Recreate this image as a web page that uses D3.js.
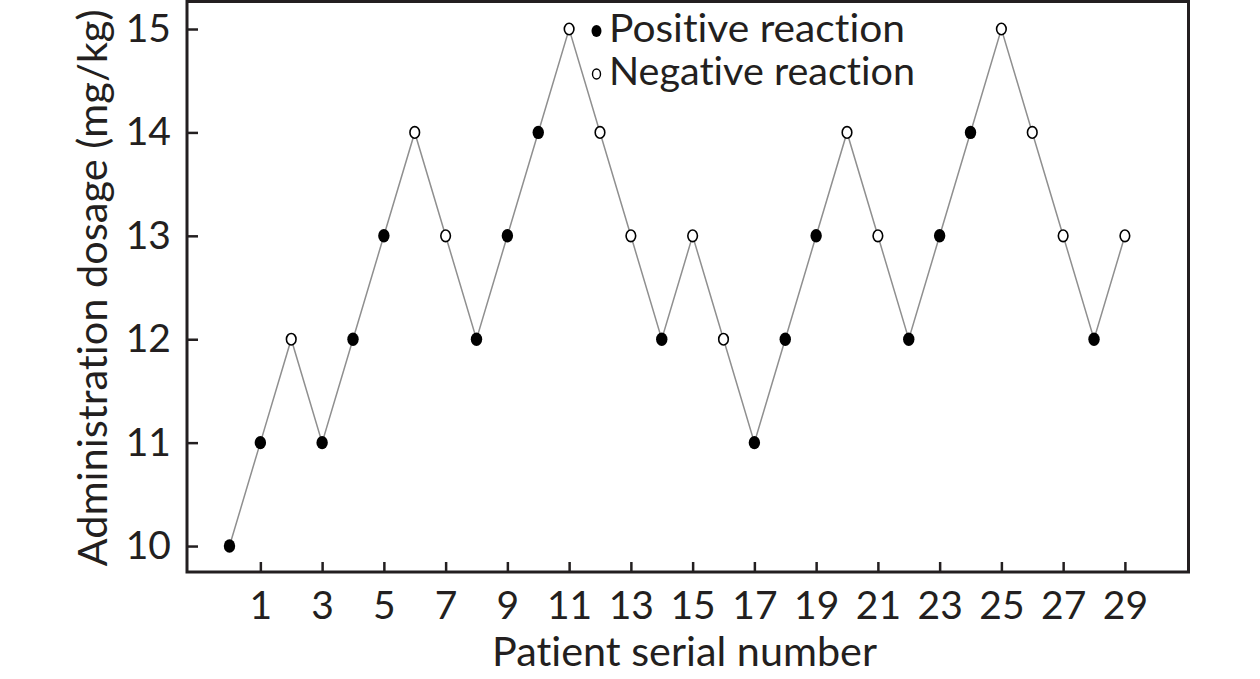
<!DOCTYPE html>
<html>
<head>
<meta charset="utf-8">
<script src="https://cdn.jsdelivr.net/npm/d3@7/dist/d3.min.js"></script>
<style>
  html, body { margin: 0; padding: 0; background: #fff; }
  svg { display: block; }
  text { font-family: Lato, "Open Sans", sans-serif; fill: #231f20; font-variant-ligatures: none; font-feature-settings: "liga" 0, "clig" 0; }
</style>
</head>
<body>
<svg id="chart" width="1260" height="679"></svg>
<script>
// ---- data ----
const patients = [0,1,2,3,4,5,6,7,8,9,10,11,12,13,14,15,16,17,18,19,20,21,22,23,24,25,26,27,28,29];
const dosage   = [10,11,12,11,12,13,14,13,12,13,14,15,14,13,12,13,12,11,12,13,14,13,12,13,14,15,14,13,12,13];
const reaction = ["P","P","N","P","P","P","N","N","P","P","P","N","N","N","P","N","N","P","P","P","N","N","P","P","P","N","N","N","P","N"];
const xTicks = [1,3,5,7,9,11,13,15,17,19,21,23,25,27,29];
const yTicks = [10,11,12,13,14,15];
const legendLabels = ["Positive reaction", "Negative reaction"];
const xTitle = "Patient serial number";
const yTitle = "Administration dosage (mg/kg)";

// ---- layout ----
const svg = d3.select("#chart");
const pLeft = 187, pRight = 1188.5, pTop = 1.5, pBottom = 572;

const x = d3.scaleLinear().domain([-1.376, 31.06]).range([pLeft, pRight]);
const y = d3.scaleLinear().domain([9.749, 15.266]).range([pBottom, pTop]);

const axisColor = "#231f20";

// line
const line = d3.line().x((d, i) => x(patients[i])).y(d => y(d));
svg.append("path")
  .datum(dosage)
  .attr("d", line)
  .attr("fill", "none")
  .attr("stroke", "#8f8f8f")
  .attr("stroke-width", 1.5);

// axes
const xAxis = d3.axisBottom(x).tickValues(xTicks).tickSize(-10).tickPadding(19).tickFormat(d3.format("d"));
const yAxis = d3.axisLeft(y).tickValues(yTicks).tickSize(-11).tickPadding(16).tickFormat(d3.format("d"));

const gx = svg.append("g").attr("transform", `translate(0,${pBottom})`).call(xAxis);
const gy = svg.append("g").attr("transform", `translate(${pLeft},0)`).call(yAxis);
[gx, gy].forEach(g => {
  g.select(".domain").remove();
  g.selectAll(".tick line").attr("stroke", axisColor).attr("stroke-width", 2.5);
  g.selectAll(".tick text").attr("fill", axisColor)
    .style("font-size", "39px").style("font-family", "Lato, sans-serif");
});

// frame
svg.append("rect")
  .attr("x", pLeft).attr("y", pTop)
  .attr("width", pRight - pLeft).attr("height", pBottom - pTop)
  .attr("fill", "none").attr("stroke", axisColor).attr("stroke-width", 3);

// markers
svg.append("g").selectAll("ellipse")
  .data(dosage)
  .join("ellipse")
  .attr("cx", (d, i) => x(patients[i]))
  .attr("cy", d => y(d))
  .attr("rx", (d, i) => reaction[i] === "P" ? 5.7 : 4.8)
  .attr("ry", (d, i) => reaction[i] === "P" ? 6.7 : 5.8)
  .attr("fill", (d, i) => reaction[i] === "P" ? "#000" : "#fff")
  .attr("stroke", "#000")
  .attr("stroke-width", (d, i) => reaction[i] === "P" ? 0 : 1.6);

// legend
const lg = svg.append("g");
const legendRows = [{y: 31, type: "P"}, {y: 74, type: "N"}];
legendRows.forEach((r, i) => {
  lg.append("ellipse")
    .attr("cx", 596.5).attr("cy", r.y)
    .attr("rx", r.type === "P" ? 5 : 4).attr("ry", r.type === "P" ? 6 : 5)
    .attr("fill", r.type === "P" ? "#000" : "#fff")
    .attr("stroke", "#000").attr("stroke-width", r.type === "P" ? 0 : 1.4);
  lg.append("text")
    .attr("x", 609).attr("y", r.y + 11)
    .style("font-size", "38px")
    .attr("textLength", i === 0 ? 296 : 306)
    .attr("lengthAdjust", "spacingAndGlyphs")
    .text(legendLabels[i]);
});

// axis titles
svg.append("text")
  .attr("x", 684.5).attr("y", 666)
  .attr("text-anchor", "middle")
  .style("font-size", "40px")
  .attr("textLength", 385)
  .attr("lengthAdjust", "spacingAndGlyphs")
  .text(xTitle);

svg.append("text")
  .attr("transform", "translate(107,288) rotate(-90)")
  .attr("text-anchor", "middle")
  .style("font-size", "40px")
  .attr("textLength", 557)
  .attr("lengthAdjust", "spacingAndGlyphs")
  .text(yTitle);
</script>
</body>
</html>
